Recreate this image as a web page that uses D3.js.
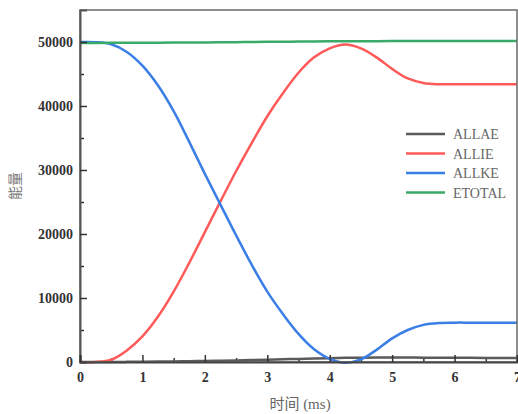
<!DOCTYPE html>
<html>
<head>
<meta charset="utf-8">
<script src="https://cdn.jsdelivr.net/npm/d3@7"></script>
<style>
  body { margin: 0; background: #fff; }
  svg { display: block; }
</style>
</head>
<body>
<svg id="chart" width="518" height="414"></svg>
<script>
// time in ms
const times = [0, 0.25, 0.5, 0.75, 1, 1.25, 1.5, 1.75, 2, 2.25, 2.5, 2.75, 3, 3.25, 3.5,
  3.75, 4, 4.25, 4.5, 4.75, 5, 5.25, 5.5, 5.75, 6, 6.25, 6.5, 6.75, 7];

const allae = [0, 0, 10, 20, 40, 60, 90, 120, 160, 200, 250, 300, 360, 420, 480,
  540, 600, 650, 680, 700, 700, 690, 680, 670, 660, 650, 640, 630, 620];
const allie = [0, 0, 350, 1800, 4000, 7100, 11000, 15500, 20300, 25100, 29800, 34200, 38400, 42000, 45200,
  47600, 49000, 49600, 49000, 47600, 45800, 44300, 43600, 43400, 43400, 43400, 43400, 43400, 43400];
const allke = [50000, 49980, 49650, 48450, 46300, 43200, 39200, 34400, 29400, 24600, 19800, 15200, 11000, 7500, 4400,
  2000, 500, -100, 400, 1900, 3700, 5000, 5800, 6100, 6150, 6150, 6150, 6150, 6150];
const etotal = [49850, 49860, 49870, 49880, 49890, 49900, 49910, 49920, 49940, 49960, 49980, 50000, 50020, 50040, 50060,
  50080, 50100, 50110, 50120, 50130, 50140, 50140, 50150, 50150, 50150, 50150, 50150, 50150, 50150];

const seriesNames = ["ALLAE", "ALLIE", "ALLKE", "ETOTAL"];
const seriesColors = ["#5a5a5a", "#ff5a5a", "#3a7ee6", "#3aaa68"];
const yTicks = [0, 10000, 20000, 30000, 40000, 50000];

const svg = d3.select("#chart");
const mLeft = 80, mTop = 10, mRight = 517, mBottom = 362;

const x = d3.scaleLinear().domain([0, 7]).range([mLeft, mRight]);
const y = d3.scaleLinear().domain([0, 55000]).range([mBottom, mTop]);

const allSeries = [allae, allie, allke, etotal];
const line = d3.line()
  .x((d, i) => x(times[i]))
  .y(d => y(d))
  .curve(d3.curveCatmullRom.alpha(0.5));

// minor ticks
svg.append("g")
  .attr("transform", `translate(${mLeft},0)`)
  .call(d3.axisRight(y).tickValues(d3.range(5000, 55000, 10000)).tickSize(4).tickFormat(""))
  .call(g => g.select(".domain").remove())
  .selectAll("line").attr("stroke", "#333").attr("stroke-width", 1.5);
svg.append("g")
  .attr("transform", `translate(0,${mBottom})`)
  .call(d3.axisTop(x).tickValues(d3.range(0.5, 7, 1)).tickSize(4).tickFormat(""))
  .call(g => g.select(".domain").remove())
  .selectAll("line").attr("stroke", "#333").attr("stroke-width", 1.5);

allSeries.forEach((s, k) => {
  svg.append("path")
    .datum(s)
    .attr("fill", "none")
    .attr("stroke", seriesColors[k])
    .attr("stroke-width", 2.5)
    .attr("d", line);
});

// frame
svg.append("rect")
  .attr("x", mLeft).attr("y", mTop)
  .attr("width", mRight - mLeft).attr("height", mBottom - mTop)
  .attr("fill", "none").attr("stroke", "#6a6a6a").attr("stroke-width", 1.5);

function styleTicks(g) {
  g.selectAll(".tick text")
    .attr("font-family", "'Liberation Serif', 'Times New Roman', serif")
    .attr("font-weight", "bold")
    .attr("font-size", 14)
    .attr("fill", "#333");
  g.selectAll(".tick line").attr("stroke", "#333").attr("stroke-width", 1.5);
}

// y axis
const yAxis = svg.append("g")
  .attr("transform", `translate(${mLeft},0)`)
  .call(d3.axisLeft(y).tickValues(yTicks).tickSize(-7).tickPadding(7).tickFormat(d3.format("d")))
  .call(styleTicks);
yAxis.select(".domain").attr("stroke", "#555").attr("stroke-width", 2);

// x axis
const xAxis = svg.append("g")
  .attr("transform", `translate(0,${mBottom})`)
  .call(d3.axisBottom(x).ticks(7).tickSize(-7).tickPadding(10).tickFormat(d3.format("d")))
  .call(styleTicks);
xAxis.select(".domain").attr("stroke", "#444").attr("stroke-width", 2);

// axis titles
svg.append("text")
  .attr("transform", "translate(20,186) rotate(-90)")
  .attr("text-anchor", "middle")
  .style("font-family", "'Noto Sans CJK SC', sans-serif")
  .style("font-size", "14px")
  .attr("fill", "#777")
  .text("能量");
svg.append("text")
  .attr("x", 300).attr("y", 409)
  .attr("text-anchor", "middle")
  .style("font-family", "'Liberation Serif', 'Noto Sans CJK SC', serif")
  .style("font-size", "15px")
  .attr("fill", "#666")
  .text("时间 (ms)");

// legend
const legend = svg.append("g").attr("transform", "translate(406,134)");
seriesNames.forEach((name, k) => {
  const row = legend.append("g").attr("transform", `translate(0,${k * 19.5})`);
  row.append("line")
    .attr("x1", 0).attr("x2", 39)
    .attr("stroke", seriesColors[k]).attr("stroke-width", 2.5);
  row.append("text")
    .attr("x", 47).attr("y", 5)
    .style("font-family", "'Liberation Serif', serif")
    .style("font-size", "14px")
    .attr("fill", "#666")
    .text(name);
});
</script>
</body>
</html>
